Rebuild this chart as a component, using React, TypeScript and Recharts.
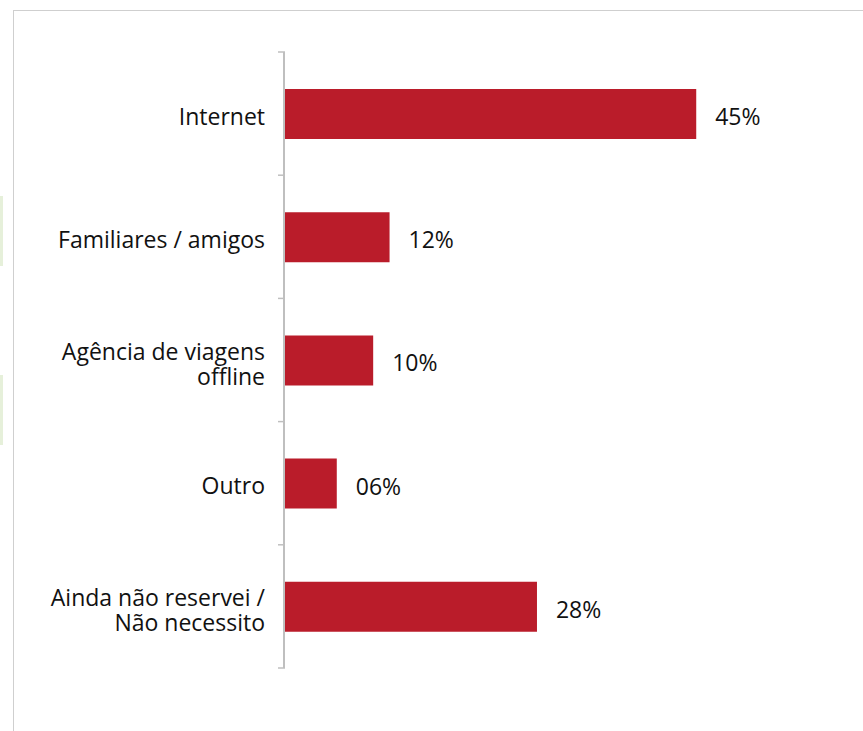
import { FC } from "react";
import { Bar, BarChart, LabelList, XAxis, YAxis } from "recharts";

const CATEGORIES: string[] = [
  "Internet",
  "Familiares / amigos",
  "Agência de viagens\noffline",
  "Outro",
  "Ainda não reservei /\nNão necessito",
];
const SHARES: number[] = [45.3, 11.6, 9.8, 5.8, 27.8];
const X_DOMAIN: number[] = [0, 60];

const FONT = "'Open Sans', sans-serif";
const RED = "#BA1C2A";
const AXIS_GREY = "#BFBFBF";

const WIDTH = 863;
const HEIGHT = 731;
const MARGIN = { top: 52, right: 33, bottom: 63, left: 0 };
const AXIS_WIDTH = 284;
const HALF_BAND = (HEIGHT - MARGIN.top - MARGIN.bottom) / CATEGORIES.length / 2;

const data = CATEGORIES.map((name, i) => ({ name, share: SHARES[i] }));

// category label plus a tick mark on the band's top edge (and bottom edge for the last one)
const CategoryTick = (props: any) => {
  const { x, y, payload, index } = props;
  const lines: string[] = String(payload.value).split("\n");
  const firstDy = lines.length > 1 ? 0 : 11;
  return (
    <g>
      <line x1={x + 2} x2={x + 9} y1={y - HALF_BAND} y2={y - HALF_BAND} stroke={AXIS_GREY} strokeWidth={1.5} />
      {index === CATEGORIES.length - 1 && (
        <line x1={x + 2} x2={x + 9} y1={y + HALF_BAND} y2={y + HALF_BAND} stroke={AXIS_GREY} strokeWidth={1.5} />
      )}
      {lines.map((line, i) => (
        <text
          key={i}
          x={x - 11}
          y={y + firstDy + i * 25}
          textAnchor="end"
          fontFamily={FONT}
          fontSize={23}
          fill="#111"
        >
          {line}
        </text>
      ))}
    </g>
  );
};

const ValueLabel = (props: any) => {
  const { x, y, width, height, value } = props;
  const txt = String(Math.round(value)).padStart(2, "0") + "%";
  return (
    <text x={x + width + 19} y={y + height / 2 + 11} fontFamily={FONT} fontSize={23} fill="#111">
      {txt}
    </text>
  );
};

const App: FC = () => {
  return (
    <div style={{ position: "absolute", left: 0, top: 0, width: WIDTH, height: HEIGHT, background: "#fff" }}>
      <div style={{ position: "absolute", left: 13, top: 10, right: 0, bottom: 0, borderTop: "1.5px solid #CFCFCF", borderLeft: "1.5px solid #CFCFCF" }} />
      <div style={{ position: "absolute", left: 0, top: 196, width: 3, height: 70, background: "#E6F0DA" }} />
      <div style={{ position: "absolute", left: 0, top: 375, width: 3, height: 70, background: "#E6F0DA" }} />
      <div style={{ position: "absolute", left: 0, top: 0 }}>
        <BarChart width={WIDTH} height={HEIGHT} data={data} layout="vertical" margin={MARGIN} barSize={50}>
          <XAxis type="number" domain={X_DOMAIN} hide />
          <YAxis
            type="category"
            dataKey="name"
            width={AXIS_WIDTH}
            axisLine={{ stroke: AXIS_GREY, strokeWidth: 2 }}
            tickLine={false}
            tick={<CategoryTick />}
            interval={0}
          />
          <Bar dataKey="share" fill={RED} isAnimationActive={false}>
            <LabelList dataKey="share" content={<ValueLabel />} />
          </Bar>
        </BarChart>
      </div>
    </div>
  );
};

export default App;
